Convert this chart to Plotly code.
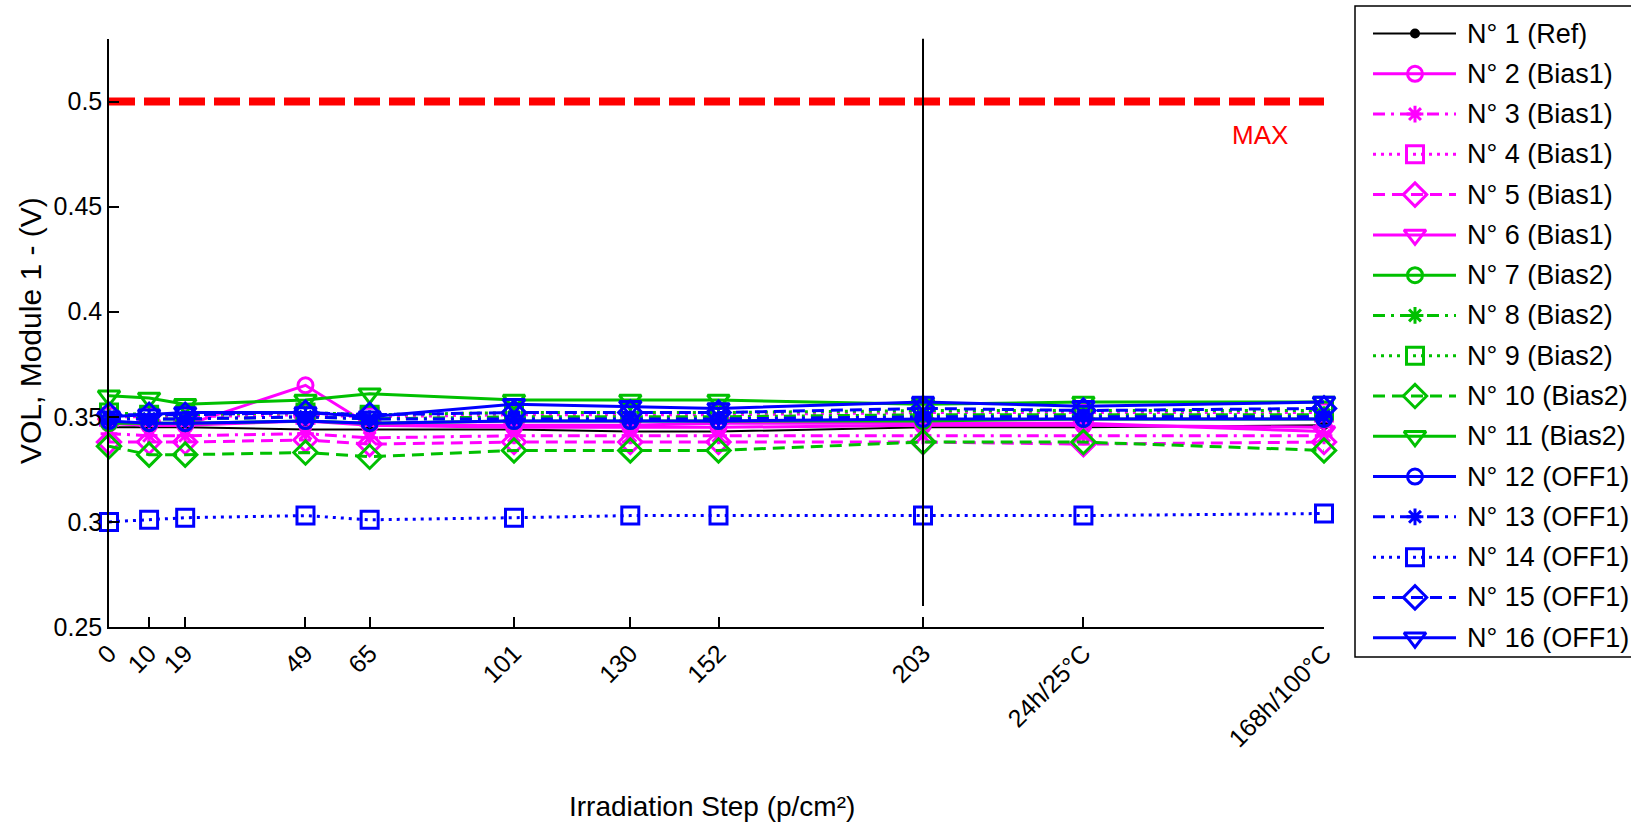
import plotly.graph_objects as go

W, H = 1631, 823

# Irradiation steps (p/cm²) followed by the two annealing steps
steps = [0, 10, 19, 49, 65, 101, 130, 152, 203, 243, 303]
step_labels = ["0", "10", "19", "49", "65", "101", "130", "152", "203",
               "24h/25°C", "168h/100°C"]

y_ticks = [0.25, 0.3, 0.35, 0.4, 0.45, 0.5]
max_limit = 0.5
end_of_irradiation = 203

names = ["N° 1 (Ref)", "N° 2 (Bias1)", "N° 3 (Bias1)", "N° 4 (Bias1)",
         "N° 5 (Bias1)", "N° 6 (Bias1)", "N° 7 (Bias2)", "N° 8 (Bias2)",
         "N° 9 (Bias2)", "N° 10 (Bias2)", "N° 11 (Bias2)", "N° 12 (OFF1)",
         "N° 13 (OFF1)", "N° 14 (OFF1)", "N° 15 (OFF1)", "N° 16 (OFF1)"]

vol_n01 = [0.345, 0.345, 0.345, 0.344, 0.344, 0.344, 0.343, 0.343, 0.345, 0.345, 0.346]
vol_n02 = [0.347, 0.346, 0.346, 0.365, 0.346, 0.345, 0.345, 0.345, 0.346, 0.346, 0.345]
vol_n03 = [0.342, 0.341, 0.341, 0.342, 0.340, 0.341, 0.341, 0.341, 0.341, 0.341, 0.341]
vol_n04 = [0.350, 0.350, 0.350, 0.351, 0.350, 0.351, 0.351, 0.351, 0.352, 0.352, 0.352]
vol_n05 = [0.338, 0.338, 0.338, 0.339, 0.337, 0.338, 0.338, 0.338, 0.338, 0.337, 0.338]
vol_n06 = [0.347, 0.346, 0.346, 0.348, 0.346, 0.346, 0.346, 0.347, 0.347, 0.347, 0.343]
vol_n07 = [0.347, 0.347, 0.347, 0.348, 0.347, 0.348, 0.348, 0.348, 0.348, 0.349, 0.349]
vol_n08 = [0.350, 0.349, 0.349, 0.350, 0.349, 0.350, 0.350, 0.350, 0.351, 0.351, 0.351]
vol_n09 = [0.352, 0.351, 0.351, 0.352, 0.351, 0.352, 0.352, 0.352, 0.353, 0.353, 0.353]
vol_n10 = [0.336, 0.332, 0.332, 0.333, 0.331, 0.334, 0.334, 0.334, 0.338, 0.338, 0.334]
vol_n11 = [0.360, 0.359, 0.356, 0.358, 0.361, 0.358, 0.358, 0.358, 0.356, 0.357, 0.357]
vol_n12 = [0.348, 0.347, 0.347, 0.348, 0.347, 0.348, 0.348, 0.348, 0.349, 0.349, 0.349]
vol_n13 = [0.349, 0.349, 0.349, 0.350, 0.349, 0.349, 0.349, 0.349, 0.350, 0.350, 0.350]
vol_n14 = [0.300, 0.301, 0.302, 0.303, 0.301, 0.302, 0.303, 0.303, 0.303, 0.303, 0.304]
vol_n15 = [0.351, 0.351, 0.351, 0.352, 0.351, 0.352, 0.352, 0.352, 0.354, 0.353, 0.354]
vol_n16 = [0.350, 0.351, 0.352, 0.352, 0.350, 0.356, 0.355, 0.354, 0.357, 0.355, 0.357]

series = [vol_n01, vol_n02, vol_n03, vol_n04, vol_n05, vol_n06, vol_n07, vol_n08,
          vol_n09, vol_n10, vol_n11, vol_n12, vol_n13, vol_n14, vol_n15, vol_n16]

MAGENTA, GREEN, BLUE = "#FF00FF", "#00C000", "#0000FF"
SOLID, DASHDOT, DOTTED, DASHED = "solid", "12px,6px,3px,6px", "3px,5px", "12px,7px"
group_styles = [(SOLID, "circle-open", 15), (DASHDOT, "asterisk-open", 14),
                (DOTTED, "square-open", 17), (DASHED, "diamond-open", 18),
                (SOLID, "triangle-down-open", 19)]

styles = [dict(color="#000000", dash=SOLID, symbol="circle", size=7, width=2)]
for col in (MAGENTA, GREEN, BLUE):
    for dash, sym, size in group_styles:
        styles.append(dict(color=col, dash=dash, symbol=sym, size=size, width=3))

FONT = "Liberation Sans, Arial, sans-serif"
MARKER_EDGE = 3

fig = go.Figure()

# MAX threshold
fig.add_trace(go.Scatter(
    x=[steps[0], steps[-1]], y=[max_limit, max_limit], mode="lines",
    line=dict(color="#FF0000", width=8, dash="26px,9px"),
    showlegend=False, hoverinfo="skip"))

for name, vals, st in zip(names, series, styles):
    fig.add_trace(go.Scatter(
        x=steps, y=vals, mode="lines+markers", name=name, cliponaxis=False,
        line=dict(color=st["color"], width=st["width"], dash=st["dash"]),
        marker=dict(symbol=st["symbol"], size=st["size"], color=st["color"],
                    line=dict(color=st["color"], width=MARKER_EDGE)),
        showlegend=False))

# Hand-built legend on its own pixel-scaled axes
LEG_X0, LEG_X1 = 1355, 1631
LEG_TOP, LEG_BOTTOM = 6, 657
row0, row_step = 33.5, 40.28
sample_x0, sample_x1, sample_mid, text_x = 1373, 1456, 1415, 1465
for i, (name, st) in enumerate(zip(names, styles)):
    yc = row0 + i * row_step
    fig.add_trace(go.Scatter(
        x=[sample_x0, sample_x1], y=[yc, yc], mode="lines", xaxis="x2", yaxis="y2",
        line=dict(color=st["color"], width=st["width"], dash=st["dash"]),
        showlegend=False, hoverinfo="skip"))
    fig.add_trace(go.Scatter(
        x=[sample_mid], y=[yc], mode="markers", xaxis="x2", yaxis="y2",
        marker=dict(symbol=st["symbol"], size=st["size"], color=st["color"],
                    line=dict(color=st["color"], width=MARKER_EDGE)),
        showlegend=False, hoverinfo="skip"))
    fig.add_annotation(x=text_x, y=yc, xref="x2", yref="y2", text=name,
                       showarrow=False, xanchor="left", yanchor="middle",
                       font=dict(family=FONT, size=27, color="#000000"))

fig.add_shape(type="rect", xref="paper", yref="paper",
              x0=LEG_X0 / W, x1=1.02, y0=1 - LEG_BOTTOM / H, y1=1 - LEG_TOP / H,
              line=dict(color="#000000", width=1.5), fillcolor="rgba(0,0,0,0)")

# End-of-irradiation marker line
fig.add_shape(type="line", xref="x", yref="y", x0=end_of_irradiation, x1=end_of_irradiation,
              y0=0.26, y1=0.53, line=dict(color="#000000", width=2), layer="above")

fig.add_annotation(x=287, y=0.4843, xref="x", yref="y", text="MAX", showarrow=False,
                   xanchor="center", yanchor="middle",
                   font=dict(family=FONT, size=26, color="#FF0000"))

fig.add_annotation(x=712 / W, y=1 - 806 / H, xref="paper", yref="paper",
                   text="Irradiation Step (p/cm²)", showarrow=False,
                   xanchor="center", yanchor="middle",
                   font=dict(family=FONT, size=28, color="#000000"))
fig.add_annotation(x=30 / W, y=1 - 331 / H, xref="paper", yref="paper",
                   text="VOL, Module 1 - (V)", textangle=-90, showarrow=False,
                   xanchor="center", yanchor="middle",
                   font=dict(family=FONT, size=30, color="#000000"))

axis_common = dict(showgrid=False, zeroline=False, showline=True, linecolor="#000000",
                   linewidth=1.5, ticks="inside", ticklen=10, tickwidth=1.5,
                   tickcolor="#000000", mirror=False,
                   tickfont=dict(family=FONT, size=25, color="#000000"))

fig.update_layout(
    width=W, height=H,
    margin=dict(l=0, r=0, t=0, b=0, autoexpand=False),
    paper_bgcolor="white", plot_bgcolor="white",
    showlegend=False,
    xaxis=dict(domain=[109 / W, 1324 / W], range=[0, 303],
               tickvals=steps, ticktext=step_labels, tickangle=-45, **axis_common),
    yaxis=dict(domain=[1 - 627 / H, 1 - 38.5 / H], range=[0.25, 0.53],
               tickvals=y_ticks, **axis_common),
    xaxis2=dict(domain=[LEG_X0 / W, 1], range=[LEG_X0, LEG_X1], visible=False,
                anchor="y2"),
    yaxis2=dict(domain=[0, 1], range=[H, 0], visible=False, anchor="x2"),
)

fig.write_html("out.html")
